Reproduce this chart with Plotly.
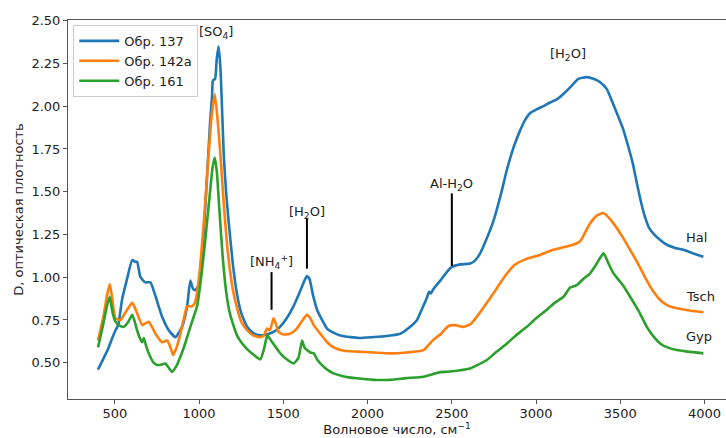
import plotly.graph_objects as go

# ---- data ----
hal_x = [400, 430, 460, 475, 504, 520, 543, 570, 603, 620, 632, 652, 681, 711, 741, 780, 820, 859, 899, 929,
         948, 965, 978, 998, 1020, 1045, 1065, 1077, 1082, 1095, 1105, 1116, 1128, 1146, 1160, 1175, 1200, 1225,
         1250, 1285, 1320, 1363, 1400, 1442, 1480, 1520, 1560, 1600, 1625, 1640, 1655, 1675, 1700, 1730, 1759,
         1800, 1838, 1900, 1950, 2034, 2100, 2194, 2240, 2293, 2330, 2352, 2365, 2375, 2390, 2431, 2470, 2500,
         2550, 2609, 2640, 2668, 2700, 2747, 2790, 2827, 2870, 2906, 2935, 2965, 3000, 3044, 3080, 3123, 3160,
         3202, 3250, 3301, 3340, 3380, 3420, 3450, 3479, 3515, 3548, 3575, 3598, 3625, 3647, 3670, 3696, 3740,
         3776, 3830, 3874, 3930, 3993]
hal_y = [0.46, 0.52, 0.58, 0.62, 0.69, 0.72, 0.87, 0.98, 1.10, 1.09, 1.09, 1.00, 0.97, 0.97, 0.89, 0.77, 0.69,
         0.65, 0.71, 0.83, 0.98, 0.93, 0.925, 0.955, 1.15, 1.55, 1.90, 2.06, 2.15, 2.16, 2.28, 2.35, 2.20, 1.72,
         1.50, 1.33, 1.08, 0.90, 0.79, 0.71, 0.675, 0.66, 0.665, 0.68, 0.71, 0.76, 0.83, 0.92, 0.98, 1.007, 0.99,
         0.90, 0.81, 0.75, 0.70, 0.675, 0.66, 0.65, 0.645, 0.65, 0.655, 0.67, 0.70, 0.75, 0.83, 0.88, 0.915,
         0.905, 0.93, 0.98, 1.03, 1.06, 1.075, 1.08, 1.10, 1.14, 1.21, 1.33, 1.48, 1.63, 1.77, 1.86, 1.92, 1.96,
         1.98, 2.00, 2.02, 2.04, 2.07, 2.11, 2.16, 2.17, 2.16, 2.14, 2.10, 2.03, 1.96, 1.87, 1.76, 1.66, 1.55,
         1.43, 1.35, 1.29, 1.255, 1.215, 1.19, 1.17, 1.16, 1.14, 1.12]

tsch_x = [400, 430, 455, 470, 485, 504, 533, 573, 603, 615, 632, 662, 680, 701, 741, 780, 810, 830, 846, 870,
          889, 910, 929, 958, 975, 1000, 1030, 1055, 1075, 1093, 1110, 1126, 1145, 1170, 1200, 1225, 1250, 1285,
          1320, 1363, 1385, 1403, 1420, 1442, 1455, 1472, 1500, 1541, 1580, 1615, 1640, 1660, 1680, 1719, 1760,
          1798, 1860, 1937, 2034, 2134, 2230, 2332, 2391, 2431, 2480, 2520, 2569, 2610, 2649, 2700, 2747, 2790,
          2826, 2870, 2925, 2970, 3023, 3060, 3103, 3140, 3182, 3220, 3261, 3290, 3321, 3360, 3400, 3430, 3459,
          3510, 3558, 3610, 3657, 3700, 3736, 3780, 3835, 3900, 3993]
tsch_y = [0.63, 0.76, 0.90, 0.96, 0.87, 0.76, 0.75, 0.81, 0.85, 0.83, 0.79, 0.72, 0.73, 0.74, 0.67, 0.62, 0.63,
          0.59, 0.545, 0.60, 0.67, 0.76, 0.83, 0.83, 0.85, 1.00, 1.35, 1.70, 1.95, 2.07, 1.92, 1.72, 1.45, 1.15,
          0.93, 0.82, 0.74, 0.69, 0.66, 0.65, 0.66, 0.70, 0.69, 0.76, 0.73, 0.68, 0.665, 0.67, 0.70, 0.75, 0.78,
          0.76, 0.72, 0.67, 0.62, 0.59, 0.57, 0.565, 0.56, 0.555, 0.56, 0.574, 0.635, 0.665, 0.715, 0.72, 0.71,
          0.725, 0.77, 0.84, 0.906, 0.97, 1.02, 1.07, 1.10, 1.115, 1.13, 1.145, 1.16, 1.17, 1.18, 1.19, 1.21,
          1.26, 1.315, 1.36, 1.375, 1.35, 1.315, 1.24, 1.16, 1.07, 0.98, 0.91, 0.867, 0.835, 0.818, 0.807, 0.795]

gyp_x = [400, 430, 455, 470, 485, 504, 530, 553, 580, 603, 618, 632, 650, 662, 672, 685, 701, 730, 751, 780,
         800, 820, 840, 865, 889, 920, 948, 975, 988, 1010, 1035, 1060, 1080, 1093, 1105, 1120, 1140, 1160, 1180,
         1200, 1225, 1250, 1285, 1320, 1363, 1385, 1405, 1420, 1442, 1482, 1520, 1561, 1590, 1611, 1625, 1640,
         1660, 1680, 1700, 1719, 1760, 1798, 1860, 1937, 2034, 2134, 2230, 2332, 2431, 2471, 2540, 2609, 2660,
         2708, 2760, 2827, 2880, 2945, 3000, 3064, 3110, 3163, 3202, 3242, 3280, 3321, 3360, 3400, 3430, 3459,
         3510, 3558, 3610, 3657, 3700, 3736, 3780, 3835, 3900, 3993]
gyp_y = [0.59, 0.72, 0.84, 0.886, 0.80, 0.74, 0.715, 0.71, 0.74, 0.78, 0.74, 0.69, 0.64, 0.62, 0.645, 0.60,
         0.555, 0.50, 0.487, 0.49, 0.496, 0.47, 0.447, 0.48, 0.535, 0.62, 0.71, 0.79, 0.83, 0.98, 1.20, 1.45,
         1.64, 1.70, 1.62, 1.40, 1.12, 0.92, 0.80, 0.73, 0.66, 0.62, 0.58, 0.55, 0.52, 0.58, 0.66, 0.64, 0.61,
         0.555, 0.52, 0.496, 0.53, 0.63, 0.59, 0.574, 0.56, 0.555, 0.52, 0.496, 0.46, 0.438, 0.42, 0.409, 0.40,
         0.40, 0.41, 0.418, 0.445, 0.447, 0.455, 0.467, 0.49, 0.516, 0.56, 0.613, 0.66, 0.71, 0.76, 0.81, 0.85,
         0.886, 0.94, 0.954, 0.99, 1.023, 1.08, 1.14, 1.08, 1.023, 0.96, 0.886, 0.80, 0.71, 0.65, 0.613, 0.59,
         0.574, 0.565, 0.555]

series_names = ["Обр. 137", "Обр. 142а", "Обр. 161"]
series_colors = ["#1f77b4", "#ff7f0e", "#2ca02c"]

# band annotations: label, x (cm-1), text y, line top, line bottom (None = no line)
band_labels = ["[SO<sub>4</sub>]", "[NH<sub>4</sub><sup>+</sup>]", "[H<sub>2</sub>O]", "Al-H<sub>2</sub>O", "[H<sub>2</sub>O]"]
band_x = [1098, 1430, 1640, 2500, 3190]
band_text_y = [2.43, 1.09, 1.38, 1.54, 2.30]
band_line_top = [None, 1.03, 1.345, 1.49, None]
band_line_bottom = [None, 0.81, 1.05, 1.065, None]

mineral_labels = ["Hal", "Tsch", "Gyp"]
mineral_x = [3880, 3880, 3880]
mineral_y = [1.23, 0.885, 0.655]

FONT = "DejaVu Sans"

fig = go.Figure()
for xs, ys, name, col in zip([hal_x, tsch_x, gyp_x], [hal_y, tsch_y, gyp_y], series_names, series_colors):
    fig.add_trace(go.Scatter(x=xs, y=ys, mode="lines", name=name,
                             line=dict(color=col, width=2.6, shape="spline", smoothing=0.5)))

for lab, bx, ty, lt, lb in zip(band_labels, band_x, band_text_y, band_line_top, band_line_bottom):
    fig.add_annotation(x=bx, y=ty, text=lab, showarrow=False, xref="x", yref="y",
                       font=dict(family=FONT, size=13, color="#222"))
    if lt is not None:
        fig.add_shape(type="line", x0=bx, x1=bx, y0=lb, y1=lt, xref="x", yref="y",
                      line=dict(color="black", width=2))

for lab, mx, my in zip(mineral_labels, mineral_x, mineral_y):
    fig.add_annotation(x=mx, y=my, text=lab, showarrow=False, xref="x", yref="y", xanchor="left",
                       font=dict(family=FONT, size=13, color="#222"))

fig.update_layout(
    width=726, height=438,
    margin=dict(l=68, r=0, t=20, b=39),
    paper_bgcolor="white", plot_bgcolor="white",
    font=dict(family=FONT, size=13, color="#222"),
    showlegend=True,
    legend=dict(x=0.008, y=0.987, xanchor="left", yanchor="top",
                bgcolor="white", bordercolor="#cccccc", borderwidth=1,
                font=dict(family=FONT, size=13, color="#222"), itemwidth=40),
)
fig.update_xaxes(range=[222, 4127], tickvals=[500, 1000, 1500, 2000, 2500, 3000, 3500, 4000],
                 showgrid=False, zeroline=False, showline=True, linecolor="#555", linewidth=1, mirror=True,
                 ticks="outside", ticklen=4, tickcolor="#555", ticklabelstandoff=-2,
                 title=dict(text="Волновое число, см<sup>−1</sup>", standoff=2,
                            font=dict(family=FONT, size=13, color="#222")))
fig.update_yaxes(range=[0.288, 2.504], tickvals=[0.5, 0.75, 1.0, 1.25, 1.5, 1.75, 2.0, 2.25, 2.5],
                 ticktext=["0.50", "0.75", "1.00", "1.25", "1.50", "1.75", "2.00", "2.25", "2.50"],
                 showgrid=False, zeroline=False, showline=True, linecolor="#555", linewidth=1, mirror=False,
                 ticks="outside", ticklen=4, tickcolor="#555",
                 title=dict(text="D, оптическая плотность", standoff=4,
                            font=dict(family=FONT, size=13, color="#222")))

fig.write_html("out.html", config={"displayModeBar": False},
               post_script="document.body.style.margin='0px';document.body.style.overflow='hidden';")
